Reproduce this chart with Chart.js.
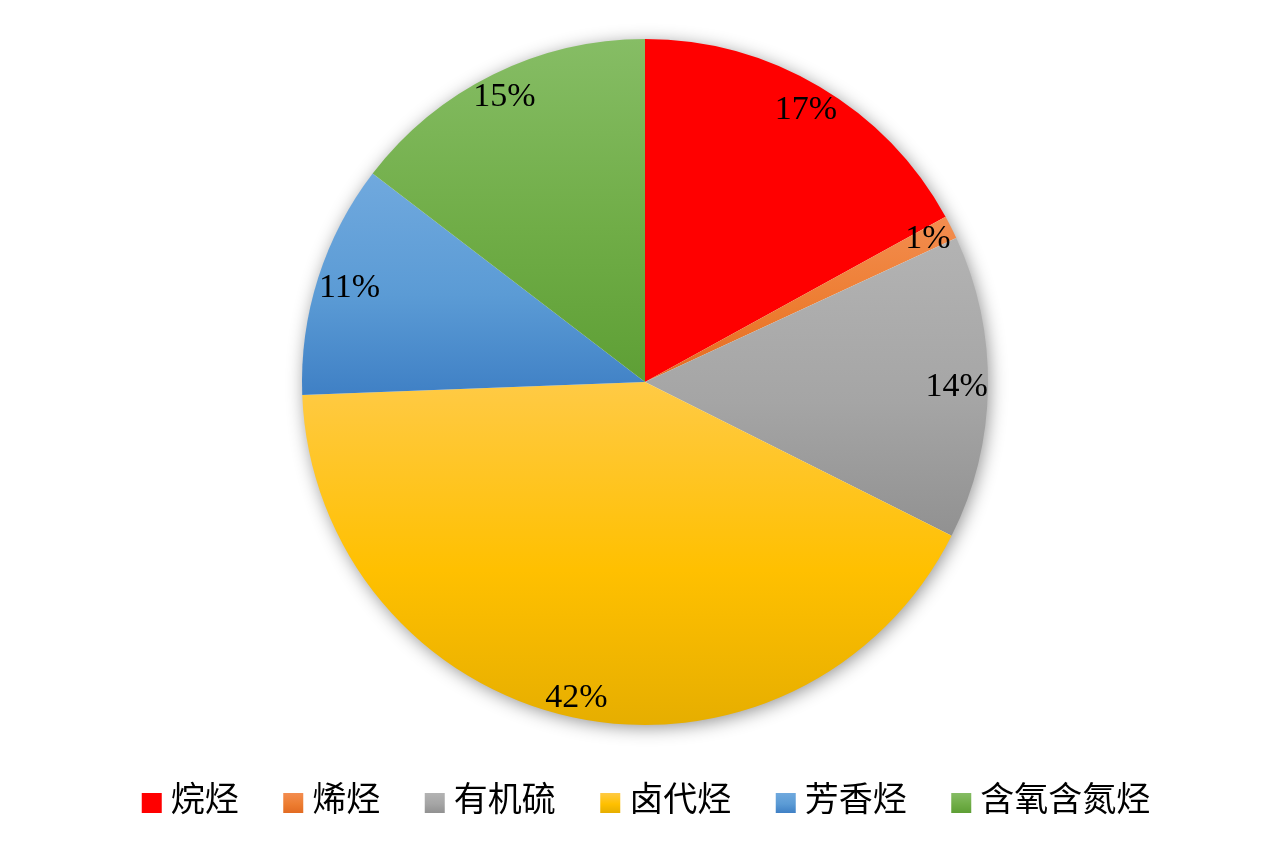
<!DOCTYPE html>
<html>
<head>
<meta charset="utf-8">
<script src="https://cdn.jsdelivr.net/npm/chart.js@4.4.0/dist/chart.umd.min.js"></script>
<style>
  html, body { margin: 0; padding: 0; background: #fff; }
</style>
</head>
<body>
<canvas id="pie" width="1288" height="852"></canvas>
<script>
// chart data
const categories = ['烷烃', '烯烃', '有机硫', '卤代烃', '芳香烃', '含氧含氮烃'];
const shares = [17.0, 1.1, 14.3, 42.0, 11.0, 14.6];

// slice gradient colours: top, middle, bottom
const topColors = ['#FF0000', '#F38D50', '#B3B3B3', '#FFCA45', '#70A9DE', '#86BD65'];
const midColors = ['#FF0000', '#ED7D31', '#A5A5A5', '#FFC000', '#5B9BD5', '#70AD47'];
const bottomColors = ['#FF0000', '#E26B22', '#919191', '#E6AE00', '#3F80C5', '#5E9F35'];

const labelFont = "34px 'Liberation Serif', 'Times New Roman', serif";
const legendFont = "34px 'Noto Sans CJK SC', sans-serif";

function makeGradient(ctx, i, top, bottom) {
    const g = ctx.createLinearGradient(0, top, 0, bottom);
    g.addColorStop(0, topColors[i]);
    g.addColorStop(0.55, midColors[i]);
    g.addColorStop(1, bottomColors[i]);
    return g;
}

function arcBounds(arc) {
    const p = arc.getProps(['x', 'y', 'startAngle', 'endAngle', 'outerRadius'], true);
    const ys = [p.y, p.y + Math.sin(p.startAngle) * p.outerRadius, p.y + Math.sin(p.endAngle) * p.outerRadius];
    // does the arc pass through straight down / straight up?
    const has = a => {
        let t = a;
        while (t < p.startAngle) t += Math.PI * 2;
        return t <= p.endAngle;
    };
    if (has(Math.PI / 2)) ys.push(p.y + p.outerRadius);
    if (has(-Math.PI / 2)) ys.push(p.y - p.outerRadius);
    return { p, top: Math.min(...ys), bottom: Math.max(...ys) };
}

// gradient fill per slice + soft shadow under the pie
const pieDecor = {
    id: 'pieDecor',
    beforeDatasetsDraw(chart) {
        const ctx = chart.ctx;
        const meta = chart.getDatasetMeta(0);
        meta.data.forEach((arc, i) => {
            const { top, bottom } = arcBounds(arc);
            const g = makeGradient(ctx, i, top, bottom);
            arc.options = Object.assign({}, arc.options, { backgroundColor: g, borderColor: g });
        });
        const first = meta.data[0].getProps(['x', 'y', 'outerRadius'], true);
        ctx.save();
        ctx.shadowColor = 'rgba(0,0,0,0.45)';
        ctx.shadowBlur = 18;
        ctx.shadowOffsetX = 2;
        ctx.shadowOffsetY = 3;
        ctx.fillStyle = '#ffffff';
        ctx.beginPath();
        ctx.arc(first.x, first.y, first.outerRadius - 1, 0, Math.PI * 2);
        ctx.fill();
        ctx.restore();
    },
    afterDatasetsDraw(chart) {
        const ctx = chart.ctx;
        const meta = chart.getDatasetMeta(0);
        const total = shares.reduce((a, b) => a + b, 0);
        ctx.save();
        ctx.font = labelFont;
        ctx.fillStyle = '#000';
        ctx.textAlign = 'center';
        ctx.textBaseline = 'middle';
        meta.data.forEach((arc, i) => {
            const p = arc.getProps(['x', 'y', 'startAngle', 'endAngle', 'outerRadius'], true);
            const txt = Math.round(shares[i] / total * 100) + '%';
            const w = ctx.measureText(txt).width;
            const h = 26;
            const mid = (p.startAngle + p.endAngle) / 2;
            const c = Math.cos(mid), s = Math.sin(mid);
            const d = p.outerRadius - Math.abs(c) * w / 2 - Math.abs(s) * h / 2;
            ctx.fillText(txt, p.x + c * d, p.y + s * d);
        });
        ctx.restore();
    },
    afterDraw(chart) {
        // legend row at the bottom
        const ctx = chart.ctx;
        const box = 20, textGap = 9, itemGap = 44.5, cy = 803;
        ctx.save();
        ctx.font = legendFont;
        const widths = categories.map(t => ctx.measureText(t).width);
        const totalW = widths.reduce((a, w) => a + box + textGap + w, 0) + itemGap * (categories.length - 1);
        let x = (chart.width - totalW) / 2 + 2;
        ctx.textBaseline = 'middle';
        categories.forEach((t, i) => {
            ctx.fillStyle = makeGradient(ctx, i, cy - box / 2, cy + box / 2);
            ctx.fillRect(x, cy - box / 2, box, box);
            ctx.fillStyle = '#000';
            ctx.fillText(t, x + box + textGap, cy - 5);
            x += box + textGap + widths[i] + itemGap;
        });
        ctx.restore();
    }
};

new Chart(document.getElementById('pie'), {
    type: 'pie',
    data: {
        labels: categories,
        datasets: [{
            data: shares,
            backgroundColor: midColors,
            borderWidth: 0
        }]
    },
    options: {
        responsive: false,
        animation: false,
        events: [],
        layout: { padding: { top: 39, bottom: 127, left: 2, right: 0 } },
        plugins: {
            legend: { display: false },
            tooltip: { enabled: false }
        }
    },
    plugins: [pieDecor]
});
</script>
</body>
</html>
